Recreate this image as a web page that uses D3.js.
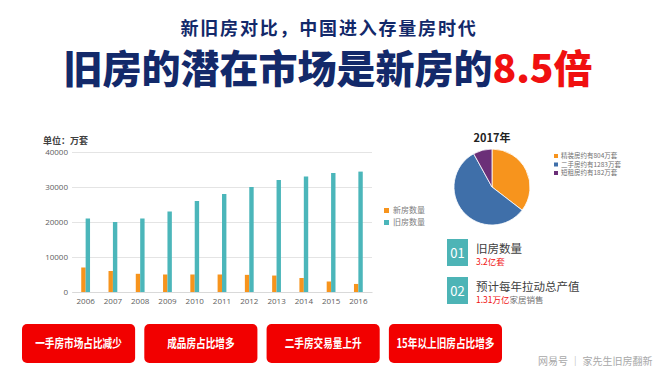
<!DOCTYPE html>
<html>
<head>
<meta charset="utf-8">
<title>旧房的潜在市场是新房的8.5倍</title>
<style>
  body { margin: 0; background: #fff; overflow: hidden; }
  svg { display: block; font-family: "Noto Sans CJK SC", "Noto Sans", sans-serif; }
</style>
</head>
<body>
<svg id="chart" width="660" height="374"></svg>
<script src="https://cdnjs.cloudflare.com/ajax/libs/d3/7.8.5/d3.min.js"></script>
<script>
  // bar chart data (万套)
  const years = ["2006","2007","2008","2009","2010","2011","2012","2013","2014","2015","2016"];
  const newHomes = [7000, 6000, 5200, 5000, 5000, 5000, 4900, 4700, 4000, 3000, 2300];
  const oldHomes = [21000, 20000, 21000, 23000, 26000, 28000, 30000, 32000, 33000, 34000, 34400];
  const seriesNames = ["新房数量", "旧房数量"];
  const yTicks = [0, 10000, 20000, 30000, 40000];

  // 2017 pie
  const pieLabels = ["精装房约有804万套", "二手房约有1283万套", "短租房约有182万套"];
  const pieValues = [804, 1283, 182];

  // info boxes + buttons
  const infoNums = ["01", "02"];
  const infoTitles = ["旧房数量", "预计每年拉动总产值"];
  const infoRed = ["3.2亿套", "1.31万亿"];
  const infoGray = ["", "家居销售"];
  const buttons = ["一手房市场占比减少", "成品房占比增多", "二手房交易量上升", "15年以上旧房占比增多"];

  const svg = d3.select("#chart");
  const navy = "#13296a";
  const orange = "#f7941d";
  const teal = "#4bb6ba";

  // titles
  svg.append("text")
    .attr("x", 329).attr("y", 35)
    .attr("text-anchor", "middle")
    .attr("font-size", 18).attr("font-weight", 700)
    .attr("letter-spacing", 1.8)
    .attr("fill", navy)
    .text("新旧房对比，中国进入存量房时代");

  const main = svg.append("text")
    .attr("x", 328).attr("y", 83)
    .attr("text-anchor", "middle")
    .attr("font-size", 39).attr("font-weight", 900)
    .attr("fill", navy);
  main.append("tspan").text("旧房的潜在市场是新房的");
  main.append("tspan").attr("fill", "#f01010").text("8.5倍");

  // bar chart
  const x = d3.scaleBand().domain(years).range([72, 372]);
  const y = d3.scaleLinear().domain([0, 40000]).range([292, 152]);
  const xs = d3.scaleBand().domain(seriesNames).range([-4.4, 4.4]);

  svg.append("text")
    .attr("x", 43).attr("y", 144)
    .attr("font-size", 9).attr("font-weight", 700)
    .attr("fill", "#404040")
    .text("单位：万套");

  const yAxis = svg.append("g")
    .attr("transform", "translate(72,0)")
    .call(d3.axisLeft(y).tickValues(yTicks).tickFormat(d3.format("d")).tickSize(-300).tickPadding(4));
  yAxis.select(".domain").remove();
  yAxis.selectAll(".tick line").attr("stroke", "#e4e4e4");
  yAxis.selectAll(".tick text").attr("font-size", 8).attr("fill", "#606060")
    .attr("font-family", "Open Sans, sans-serif");

  const xAxis = svg.append("g")
    .attr("transform", "translate(0,292)")
    .call(d3.axisBottom(x).tickSize(0).tickPadding(6));
  xAxis.select(".domain").attr("stroke", "#d9d9d9");
  xAxis.selectAll(".tick text").attr("font-size", 8).attr("fill", "#606060")
    .attr("font-family", "Open Sans, sans-serif");

  const series = [newHomes, oldHomes];
  const colors = [orange, teal];
  series.forEach(function(vals, si) {
    svg.append("g").selectAll("rect")
      .data(vals)
      .enter().append("rect")
      .attr("x", (d, i) => x(years[i]) + x.bandwidth() / 2 + xs(seriesNames[si]))
      .attr("y", d => y(d))
      .attr("width", xs.bandwidth())
      .attr("height", d => y(0) - y(d))
      .attr("fill", colors[si]);
  });

  const legend = svg.append("g").selectAll("g")
    .data(seriesNames)
    .enter().append("g")
    .attr("transform", (d, i) => "translate(384," + (208 + i * 12) + ")");
  legend.append("rect").attr("width", 5).attr("height", 5).attr("fill", (d, i) => colors[i]);
  legend.append("text").attr("x", 9).attr("y", 5).attr("font-size", 8)
    .attr("fill", "#808080").text(d => d);

  // pie
  const pieColors = [orange, "#3f6fa9", "#6b2f78"];
  svg.append("text")
    .attr("x", 492).attr("y", 142)
    .attr("text-anchor", "middle")
    .attr("font-size", 11).attr("font-weight", 700)
    .attr("fill", "#222")
    .text("2017年");

  const arc = d3.arc().innerRadius(0).outerRadius(38);
  svg.append("g")
    .attr("transform", "translate(492,187)")
    .selectAll("path")
    .data(d3.pie().sort(null).value(d => d)(pieValues))
    .enter().append("path")
    .attr("d", arc)
    .attr("fill", (d, i) => pieColors[i])
    .attr("stroke", "#fff").attr("stroke-width", 0.8);

  const pieLegend = svg.append("g").selectAll("g")
    .data(pieLabels)
    .enter().append("g")
    .attr("transform", (d, i) => "translate(554," + (154 + i * 8.5) + ")");
  pieLegend.append("rect").attr("width", 4).attr("height", 4).attr("fill", (d, i) => pieColors[i]);
  pieLegend.append("text").attr("x", 7).attr("y", 4.3).attr("font-size", 6.5)
    .attr("fill", "#707070").text(d => d);

  // info boxes
  const info = svg.append("g").selectAll("g")
    .data(infoNums)
    .enter().append("g")
    .attr("transform", (d, i) => "translate(447," + (239 + i * 38) + ")");
  info.append("rect").attr("width", 21).attr("height", 27).attr("fill", "#4db4b6");
  info.append("text").attr("x", 10.5).attr("y", 19).attr("text-anchor", "middle")
    .attr("font-size", 13).attr("fill", "#fff").text(d => d);
  info.append("text").attr("x", 29).attr("y", 14).attr("font-size", 11.5)
    .attr("fill", "#404040").text((d, i) => infoTitles[i]);
  const sub = info.append("text").attr("x", 29).attr("y", 26).attr("font-size", 8.5);
  sub.append("tspan").attr("fill", "#f01010").text((d, i) => infoRed[i]);
  sub.append("tspan").attr("fill", "#707070").text((d, i) => infoGray[i]);

  // red buttons
  const bx = d3.scaleBand().domain(buttons).range([22, 502]).paddingInner(0.075);
  const btn = svg.append("g").selectAll("g")
    .data(buttons)
    .enter().append("g")
    .attr("transform", d => "translate(" + bx(d) + ",324)");
  btn.append("rect").attr("width", bx.bandwidth()).attr("height", 39).attr("rx", 5)
    .attr("fill", "#f20000");
  btn.append("text").attr("x", bx.bandwidth() / 2).attr("y", 23.5)
    .attr("text-anchor", "middle").attr("font-size", 12.5).attr("font-weight", 700)
    .attr("fill", "#fff").text(d => d)
    .each(function() {
      const w = this.getComputedTextLength();
      d3.select(this).attr("textLength", w * 0.77).attr("lengthAdjust", "spacingAndGlyphs");
    });

  // watermark
  svg.append("text")
    .attr("x", 538).attr("y", 365)
    .attr("font-size", 10).attr("fill", "#9a9a9a")
    .attr("opacity", 0.85)
    .text("网易号 ｜ 家先生旧房翻新");
</script>
</body>
</html>
